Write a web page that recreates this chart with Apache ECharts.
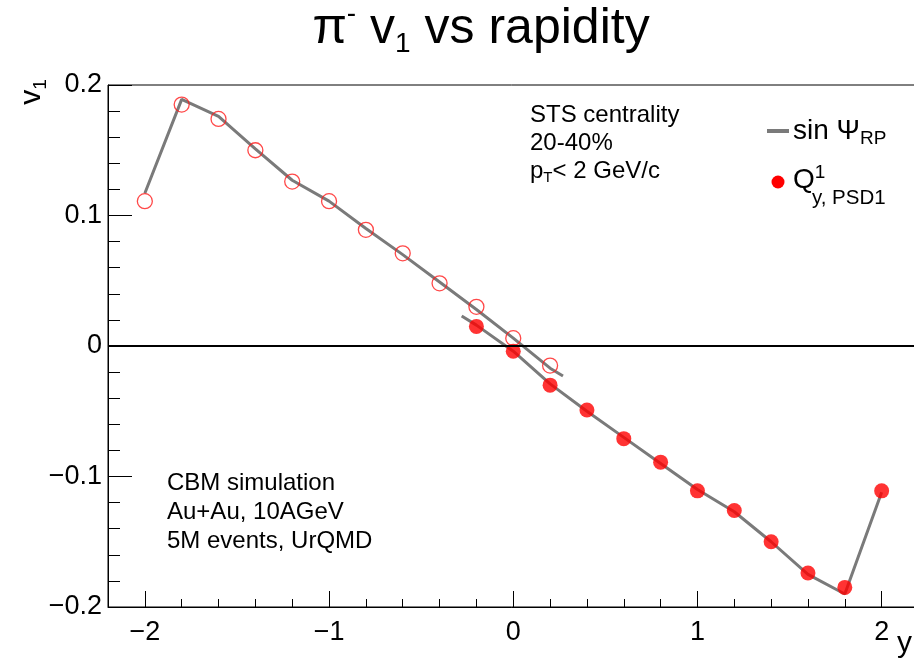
<!DOCTYPE html>
<html>
<head>
<meta charset="utf-8">
<script src="https://cdn.jsdelivr.net/npm/echarts@6/dist/echarts.min.js"></script>
<style>html,body{margin:0;padding:0;background:#fff}#c{width:914px;height:667px}</style>
</head>
<body>
<div id="c"></div>
<script>
// ---- data ----
const rapidityNeg = [-2.0, -1.8, -1.6, -1.4, -1.2, -1.0, -0.8, -0.6, -0.4, -0.2, 0.0, 0.2];
const v1Open = [0.111, 0.185, 0.174, 0.150, 0.126, 0.111, 0.089, 0.071, 0.048, 0.030, 0.006, -0.015];
const rapidityPos = [-0.2, 0.0, 0.2, 0.4, 0.6, 0.8, 1.0, 1.2, 1.4, 1.6, 1.8, 2.0];
const v1Filled = [0.015, -0.004, -0.030, -0.049, -0.071, -0.089, -0.111, -0.126, -0.150, -0.174, -0.185, -0.111];
const sinNegX = [-2.0, -1.8, -1.6, -1.4, -1.2, -1.0, -0.8, -0.6, -0.4, -0.2, 0.0, 0.2, 0.27];
const sinNegV = [0.117, 0.189, 0.176, 0.151, 0.127, 0.111, 0.090, 0.070, 0.049, 0.028, 0.006, -0.017, -0.023];
const sinPosX = [-0.28, -0.2, 0.0, 0.2, 0.4, 0.6, 0.8, 1.0, 1.2, 1.4, 1.6, 1.8, 2.0];
const sinPosV = [0.023, 0.016, -0.004, -0.029, -0.050, -0.070, -0.090, -0.110, -0.127, -0.150, -0.175, -0.190, -0.112];
const xMajorTicks = [-2, -1, 0, 1, 2];
const xMinorTicks = [-1.8, -1.6, -1.4, -1.2, -0.8, -0.6, -0.4, -0.2, 0.2, 0.4, 0.6, 0.8, 1.2, 1.4, 1.6, 1.8, 2.2];
const yTickLabels = [-0.2, -0.1, 0, 0.1, 0.2];

const FONT = 'Liberation Sans, Arial, Helvetica, sans-serif';
const fmt = v => (v < 0 ? '\u2212' + String(Math.abs(+v.toFixed(2))) : String(+(+v).toFixed(2)));
const zip = (xs, ys) => xs.map((x, i) => [x, ys[i]]);

const chart = echarts.init(document.getElementById('c'), null, {renderer: 'canvas'});
chart.setOption({
  animation: false,
  backgroundColor: '#fff',
  grid: {left: 108, top: 85, width: 810.5, bottom: 60, outerBoundsMode: 'none', containLabel: false,
         show: true, borderColor: '#000', borderWidth: 1, backgroundColor: 'transparent'},
  xAxis: [{
    type: 'value', min: -2.2, max: 2.2, position: 'bottom',
    axisLine: {show: true, onZero: false, lineStyle: {color: '#000', width: 1}},
    axisTick: {show: true, inside: true, length: 16, customValues: xMajorTicks, lineStyle: {color: '#000'}},
    axisLabel: {show: true, customValues: xMajorTicks, formatter: fmt, fontSize: 27, fontFamily: FONT, color: '#000', margin: 12},
    splitLine: {show: false}
  }, {
    type: 'value', min: -2.2, max: 2.2, position: 'bottom',
    axisLine: {show: false, onZero: false},
    axisTick: {show: true, inside: true, length: 8, customValues: xMinorTicks, lineStyle: {color: '#000'}},
    axisLabel: {show: false},
    splitLine: {show: false}
  }],
  yAxis: [{
    type: 'value', min: -0.2, max: 0.2, interval: 0.1,
    axisLine: {show: true, onZero: false, lineStyle: {color: '#000', width: 1}},
    axisTick: {show: true, inside: true, length: 24, lineStyle: {color: '#000'}},
    minorTick: {show: true, splitNumber: 5, length: 12, lineStyle: {color: '#000'}},
    axisLabel: {formatter: fmt, fontSize: 27, fontFamily: FONT, color: '#000', margin: 6, customValues: yTickLabels},
    splitLine: {show: false}
  }],
  series: [
    {type: 'line', data: zip(sinNegX, sinNegV), showSymbol: false, lineStyle: {color: '#7a7a7a', width: 3}, z: 2,
     markLine: {silent: true, symbol: 'none', label: {show: false}, lineStyle: {color: '#000', width: 2, type: 'solid'}, data: [{yAxis: 0}]}},
    {type: 'line', data: zip(sinPosX, sinPosV), showSymbol: false, lineStyle: {color: '#7a7a7a', width: 3}, z: 2},
    {type: 'scatter', data: zip(rapidityNeg, v1Open), symbol: 'circle', symbolSize: 15,
     itemStyle: {color: 'rgba(0,0,0,0)', borderColor: '#ff1a1a', borderWidth: 1.3}, z: 3},
    {type: 'scatter', data: zip(rapidityPos, v1Filled), symbol: 'circle', symbolSize: 15,
     itemStyle: {color: '#ff0000'}, z: 4}
  ],
  graphic: [
    {type: 'text', x: 481, y: 29, style: {
      text: '{n|\u03c0}{sup|-}{n| v}{sub|1}{n| vs rapidity}', align: 'center', verticalAlign: 'middle', fill: '#000',
      rich: {
        n: {fontSize: 50, fontFamily: FONT, lineHeight: 58, verticalAlign: 'middle'},
        sup: {fontSize: 28, fontFamily: FONT, lineHeight: 30, verticalAlign: 'top'},
        sub: {fontSize: 28, fontFamily: FONT, lineHeight: 26, verticalAlign: 'bottom'}
      }}},
    {type: 'text', x: 32, y: 92, rotation: Math.PI / 2, style: {
      text: '{n|v}{sub|1}', align: 'center', verticalAlign: 'middle', fill: '#000',
      rich: {
        n: {fontSize: 30, fontFamily: FONT, lineHeight: 36},
        sub: {fontSize: 19, fontFamily: FONT, lineHeight: 19, verticalAlign: 'bottom'}
      }}},
    {type: 'text', x: 897, y: 644, style: {text: 'y', fontSize: 30, fontFamily: FONT, fill: '#000', verticalAlign: 'middle'}},
    {type: 'text', x: 530, y: 101, style: {
      text: '{n|STS centrality}\n{n|20-40%}\n{n|p}{sub|T}{n|< 2 GeV/c}', fill: '#000', verticalAlign: 'top',
      rich: {
        n: {fontSize: 24, fontFamily: FONT, lineHeight: 28},
        sub: {fontSize: 15, fontFamily: FONT, lineHeight: 15, verticalAlign: 'bottom'}
      }}},
    {type: 'text', x: 167, y: 469, style: {
      text: 'CBM simulation\nAu+Au, 10AGeV\n5M events, UrQMD', fill: '#000', verticalAlign: 'top',
      fontSize: 24, fontFamily: FONT, lineHeight: 29}},
    {type: 'line', shape: {x1: 767, y1: 131, x2: 789, y2: 131}, style: {stroke: '#7a7a7a', lineWidth: 4}},
    {type: 'text', x: 793, y: 131, style: {
      text: '{n|sin \u03a8}{sub|RP}', fill: '#000', verticalAlign: 'middle',
      rich: {
        n: {fontSize: 28, fontFamily: FONT, lineHeight: 34},
        sub: {fontSize: 19, fontFamily: FONT, lineHeight: 19, verticalAlign: 'bottom'}
      }}},
    {type: 'circle', shape: {cx: 778, cy: 182, r: 6.5}, style: {fill: '#ff0000'}},
    {type: 'text', x: 793, y: 180, style: {
      text: '{n|Q}{sup|1}', fill: '#000', verticalAlign: 'middle',
      rich: {
        n: {fontSize: 28, fontFamily: FONT, lineHeight: 34},
        sup: {fontSize: 19, fontFamily: FONT, lineHeight: 18, verticalAlign: 'top'}
      }}},
    {type: 'text', x: 812, y: 198, style: {text: 'y, PSD1', fontSize: 20.5, fontFamily: FONT, fill: '#000', verticalAlign: 'middle'}}
  ]
});
</script>
</body>
</html>
